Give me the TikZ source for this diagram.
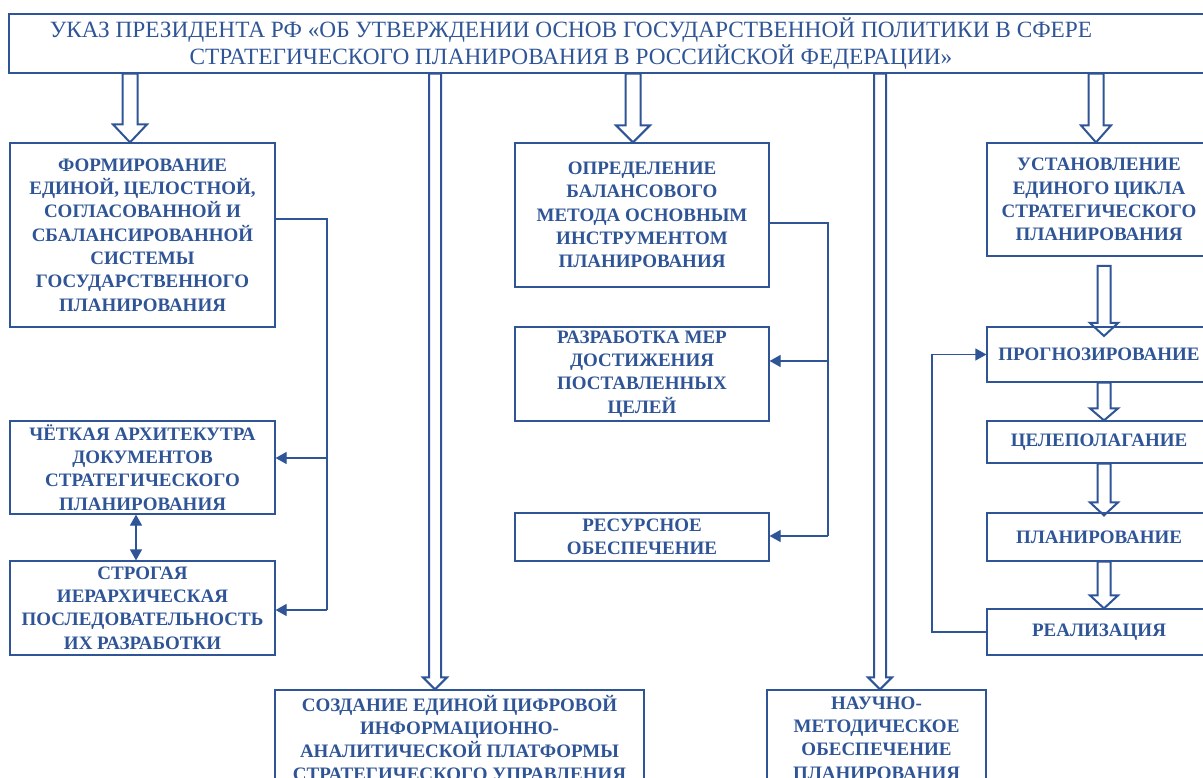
\documentclass[tikz,border=0pt]{standalone}
\usepackage{fontspec}
\setmainfont{Liberation Serif}
\usetikzlibrary{arrows.meta,calc}
\definecolor{db}{HTML}{2F5597}
% block arrow: start, tip, shaft half width, head half width, head length
\newcommand\blockarrow[5]{%
  \draw[hollowarr] ($(#1)+(-#3,0)$) -- ($(#2)+(-#3,-#5)$) -- ($(#2)+(-#4,-#5)$) -- (#2)
    -- ($(#2)+(#4,-#5)$) -- ($(#2)+(#3,-#5)$) -- ($(#1)+(#3,0)$) -- cycle;}
\begin{document}
\begin{tikzpicture}[x=1pt,y=-1pt,
  box/.style={draw=db, line width=1.2pt, text=db, align=center, inner sep=0pt,
    font=\bfseries\fontsize{19}{23.3}\selectfont},
  titlebox/.style={draw=db, line width=1.2pt, inner sep=0pt},
  titletext/.style={text=db, align=center, inner sep=0pt, font=\fontsize{23.3}{27}\selectfont},
  hollowarr/.style={draw=db, line width=2pt, line join=miter},
  conn/.style={draw=db, line width=1.2pt},
  tipc/.style={conn, -{Triangle[length=11pt,width=12pt]}},
  dbl/.style={conn, {Triangle[length=11pt,width=12pt]}-{Triangle[length=11pt,width=12pt]}}]
\clip (0,0) rectangle (1203,778);
\fill[white] (0,0) rectangle (1203,778);

% title
\node[titlebox, minimum width=1241pt, minimum height=59pt] (T) at (629.5,43.5) {};
\node[titletext] (Tt) at (571,44) {УКАЗ ПРЕЗИДЕНТА РФ «ОБ УТВЕРЖДЕНИИ ОСНОВ ГОСУДАРСТВЕННОЙ ПОЛИТИКИ В СФЕРЕ\\СТРАТЕГИЧЕСКОГО ПЛАНИРОВАНИЯ В РОССИЙСКОЙ ФЕДЕРАЦИИ»};

% left column
\node[box, minimum width=265pt, minimum height=184pt] (L1) at (142.5,235) {ФОРМИРОВАНИЕ\\ЕДИНОЙ, ЦЕЛОСТНОЙ,\\СОГЛАСОВАННОЙ И\\СБАЛАНСИРОВАННОЙ\\СИСТЕМЫ\\ГОСУДАРСТВЕННОГО\\ПЛАНИРОВАНИЯ};
\node[box, minimum width=265pt, minimum height=93pt] (L2) at (142.5,467.5) {ЧЁТКАЯ АРХИТЕКУТРА\\ДОКУМЕНТОВ\\СТРАТЕГИЧЕСКОГО\\ПЛАНИРОВАНИЯ};
\node[box, minimum width=265pt, minimum height=94pt] (L3) at (142.5,608) {СТРОГАЯ\\ИЕРАРХИЧЕСКАЯ\\ПОСЛЕДОВАТЕЛЬНОСТЬ\\ИХ РАЗРАБОТКИ};

% middle column
\node[box, minimum width=254pt, minimum height=144pt] (M1) at (642,215) {ОПРЕДЕЛЕНИЕ\\БАЛАНСОВОГО\\МЕТОДА ОСНОВНЫМ\\ИНСТРУМЕНТОМ\\ПЛАНИРОВАНИЯ};
\node[box, minimum width=254pt, minimum height=94pt] (M2) at (642,374) {РАЗРАБОТКА МЕР\\ДОСТИЖЕНИЯ\\ПОСТАВЛЕННЫХ\\ЦЕЛЕЙ};
\node[box, minimum width=254pt, minimum height=48pt] (M3) at (642,537) {РЕСУРСНОЕ\\ОБЕСПЕЧЕНИЕ};

% right column
\node[box, minimum width=224pt, minimum height=113pt] (R1) at (1099,199.5) {УСТАНОВЛЕНИЕ\\ЕДИНОГО ЦИКЛА\\СТРАТЕГИЧЕСКОГО\\ПЛАНИРОВАНИЯ};
\node[box, minimum width=224pt, minimum height=55pt] (R2) at (1099,354.5) {ПРОГНОЗИРОВАНИЕ};
\node[box, minimum width=224pt, minimum height=42pt] (R3) at (1099,442) {ЦЕЛЕПОЛАГАНИЕ};
\node[box, minimum width=224pt, minimum height=48pt] (R4) at (1099,537) {ПЛАНИРОВАНИЕ};
\node[box, minimum width=224pt, minimum height=46pt] (R5) at (1099,632) {РЕАЛИЗАЦИЯ};

% bottom boxes
\node[box, minimum width=369pt, minimum height=96pt] (B1) at (459.5,738) {СОЗДАНИЕ ЕДИНОЙ ЦИФРОВОЙ\\ИНФОРМАЦИОННО-\\АНАЛИТИЧЕСКОЙ ПЛАТФОРМЫ\\СТРАТЕГИЧЕСКОГО УПРАВЛЕНИЯ};
\node[box, minimum width=219pt, minimum height=96pt] (B2) at (876.5,738) {НАУЧНО-\\МЕТОДИЧЕСКОЕ\\ОБЕСПЕЧЕНИЕ\\ПЛАНИРОВАНИЯ};

% block arrows from the title
\coordinate (xA) at (130,0);
\coordinate (xB) at (435,0);
\coordinate (xC) at (633,0);
\coordinate (xD) at (880,0);
\coordinate (xE) at (1096,0);
\coordinate (xR) at (1104,0);
\coordinate (aS) at (T.south -| xA); \coordinate (aE) at (L1.north -| xA);
\coordinate (bS) at (T.south -| xB); \coordinate (bE) at (B1.north -| xB);
\coordinate (cS) at (T.south -| xC); \coordinate (cE) at (M1.north -| xC);
\coordinate (dS) at (T.south -| xD); \coordinate (dE) at (B2.north -| xD);
\coordinate (eS) at (T.south -| xE); \coordinate (eE) at (R1.north -| xE);
\blockarrow{aS}{aE}{7.5}{17}{18}
\blockarrow{bS}{bE}{6}{12}{12}
\blockarrow{cS}{cE}{7.5}{17}{17}
\blockarrow{dS}{dE}{6}{12}{12}
\blockarrow{eS}{eE}{7.5}{15}{17}

% right column block arrows
\coordinate (r1S) at (1104,266); \coordinate (r1E) at (1104,336);
\coordinate (r2S) at (R2.south -| xR); \coordinate (r2E) at (R3.north -| xR);
\coordinate (r3S) at (R3.south -| xR); \coordinate (r3E) at ($(R4.north -| xR)+(0,3)$);
\coordinate (r4S) at (R4.south -| xR); \coordinate (r4E) at (R5.north -| xR);
\blockarrow{r1S}{r1E}{6.5}{14}{13}
\blockarrow{r2S}{r2E}{6.5}{14}{12}
\blockarrow{r3S}{r3E}{6.5}{14}{13}
\blockarrow{r4S}{r4E}{6.5}{14}{13}

% left bracket connector
\coordinate (lb1) at (327,219);
\coordinate (lb2) at (327,610);
\coordinate (lbm) at (327,458);
\draw[conn] (L1.east |- lb1) -- (lb1) -- (lb2);
\draw[tipc] (lbm) -- (L2.east |- lbm);
\draw[tipc] (lb2) -- (L3.east |- lb2);
\coordinate (xd) at (136,0);
\draw[dbl] (L2.south -| xd) -- (L3.north -| xd);

% middle bracket connector
\coordinate (mb1) at (828,223);
\coordinate (mb2) at (828,536);
\coordinate (mbm) at (828,361);
\draw[conn] (M1.east |- mb1) -- (mb1) -- (mb2);
\draw[tipc] (mbm) -- (M2.east |- mbm);
\draw[tipc] (mb2) -- (M3.east |- mb2);

% feedback loop
\coordinate (fb) at (932,354.5);
\draw[tipc] (R5.west) -| (fb) -- (R2.west);
\end{tikzpicture}
\end{document}
